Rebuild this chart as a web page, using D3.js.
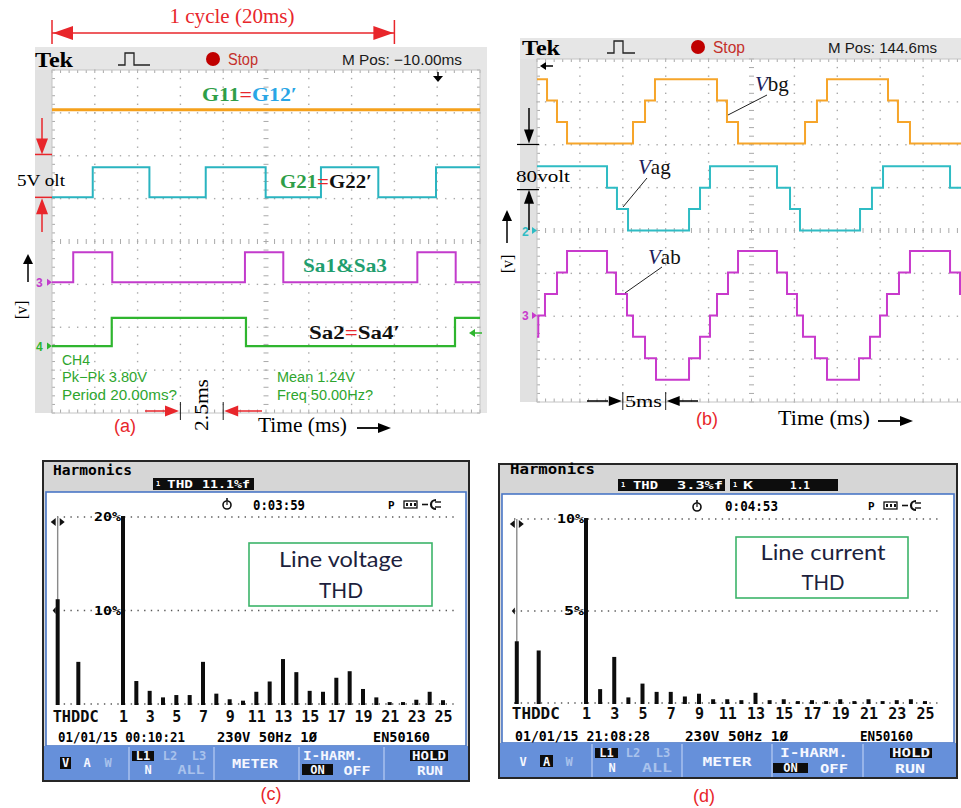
<!DOCTYPE html>
<html>
<head>
<meta charset="utf-8">
<script src="https://cdn.jsdelivr.net/npm/d3@7"></script>
<style>
  body { margin: 0; background: #fff; }
  svg { display: block; }
</style>
</head>
<body>
<svg id="fig" width="961" height="808"></svg>
<script>
// ---------------- data ----------------
// (a) gate pulses: switching instants in ms over the 25 ms record (2.5 ms/div)
const g11Edges = [];                                   // G11 = G12' held for the whole record
const g21Edges = [2.38, 5.69, 8.98, 12.48, 15.71, 19.06, 22.43];
const sa13Edges = [1.24, 3.52, 11.27, 13.51, 21.34, 23.58];
const sa24Edges = [3.49, 11.33, 23.54];
const gateAmplitudes = [0, 3.5, 3.5, 3.3];             // volts, same order as the four traces

// (b) stepped output voltages: [time ms, volts] at every level change (5 ms/div, 80 V/div)
const vbgSteps = [[0,120],[1.17,80],[2.33,40],[3.50,0],[11.19,40],[12.59,80],[13.75,120],
  [20.98,80],[22.14,40],[23.43,0],[31.24,40],[32.63,80],[33.80,120],[40.91,80],[42.07,40],[43.47,0]];
const vagSteps = [[0,120],[8.16,80],[9.32,40],[10.61,0],[17.72,40],[19.00,80],[20.16,120],
  [27.97,80],[29.49,40],[30.65,0],[37.65,40],[39.04,80],[40.33,120],[48.14,80]];
const vabSteps = [[0,-40],[0.15,0],[0.93,40],[2.33,80],[3.50,120],[8.16,80],[9.21,40],[10.49,0],
  [11.19,-40],[12.59,-80],[13.87,-120],[17.72,-80],[19.00,-40],[20.16,0],[20.98,40],[22.26,80],
  [23.43,120],[27.97,80],[29.14,40],[30.30,0],[31.00,-40],[32.40,-80],[33.80,-120],[37.53,-80],
  [38.81,-40],[39.98,0],[40.79,40],[42.19,80],[43.47,120],[48.14,80],[49.30,40]];

// (c), (d) harmonic spectra in % of fundamental
const harmonicOrders = [1,2,3,4,5,6,7,8,9,10,11,12,13,14,15,16,17,18,19,20,21,22,23,24,25];
const harmonicTickLabels = [1,3,5,7,9,11,13,15,17,19,21,23,25];
const voltageTHD = 11.1, voltageDC = 4.4;
const voltageHarmonics = [100, 2.35, 1.3, 0.6, 0.85, 0.85, 4.4, 1.0, 0.4, 0.25, 1.2, 2.3, 4.7,
  3.3, 1.3, 1.2, 2.7, 3.4, 1.5, 0.6, 0.1, 0.1, 0.35, 1.2, 0.3];
const currentTHD = 3.3, currentDC = 2.8;
const currentHarmonics = [100, 0.7, 2.45, 0.25, 1.0, 0.55, 0.55, 0.3, 0.45, 0.15, 0.15, 0.1, 0.5,
  0.1, 0.15, 0.05, 0.1, 0.05, 0.15, 0.05, 0.15, 0.05, 0.1, 0.15, 0.05];

// ---------------- helpers ----------------
const SERIF = "'Liberation Serif','DejaVu Serif',serif";
const SANS = "'Liberation Sans',Arial,sans-serif";
const MONO = "'DejaVu Sans Mono',monospace";
const LATO = "Lato,'Open Sans',sans-serif";
const RED = '#e8262b';

const svg = d3.select('#fig');
svg.append('rect').attr('width', 961).attr('height', 808).attr('fill', '#fff');
const defs = svg.append('defs');

function txt(g, x, y, s, o = {}) {
  const t = g.append('text').attr('x', x).attr('y', y).text(s)
    .attr('font-family', o.f || SANS).attr('font-size', o.s || 14).attr('fill', o.c || '#000');
  if (o.w) t.attr('font-weight', o.w);
  if (o.a) t.attr('text-anchor', o.a);
  if (o.st) t.attr('font-style', o.st);
  if (o.len) t.attr('textLength', o.len).attr('lengthAdjust', 'spacingAndGlyphs');
  if (o.rot !== undefined) t.attr('transform', `rotate(${o.rot},${x},${y})`);
  return t;
}
function ctext(g, x, y, parts, o = {}) {
  const t = txt(g, x, y, '', o);
  parts.forEach(p => {
    const ts = t.append('tspan').text(p[0]).attr('fill', p[1]);
    if (p[2]) ts.attr('font-style', p[2]);
  });
  return t;
}
function seg(g, x1, y1, x2, y2, c, w) {
  g.append('line').attr('x1', x1).attr('y1', y1).attr('x2', x2).attr('y2', y2)
    .attr('stroke', c).attr('stroke-width', w || 1);
}
function head(g, x, y, dir, len, half, c) {
  const p = {
    l: [[x, y], [x + len, y - half], [x + len, y + half]],
    r: [[x, y], [x - len, y - half], [x - len, y + half]],
    u: [[x, y], [x - half, y + len], [x + half, y + len]],
    d: [[x, y], [x - half, y - len], [x + half, y - len]]
  }[dir];
  g.append('path').attr('d', 'M' + p.join('L') + 'Z').attr('fill', c);
}

// oscilloscope graticule: 10 x 8 divisions, dotted, with ticked centre lines
function graticule(g, gx, gy, gw, gh) {
  const dw = gw / 10, dh = gh / 8;
  g.append('rect').attr('x', gx).attr('y', gy).attr('width', gw).attr('height', gh).attr('fill', '#fff');
  const dots = [];
  for (let i = 1; i < 10; i++) if (i !== 5) for (let k = 0; k <= 40; k++) dots.push([gx + i * dw, gy + k * dh / 5]);
  for (let j = 1; j < 8; j++) if (j !== 4) for (let k = 0; k <= 50; k++) dots.push([gx + k * dw / 5, gy + j * dh]);
  g.append('g').selectAll('rect').data(dots).join('rect')
    .attr('x', d => d[0] - 0.7).attr('y', d => d[1] - 0.7).attr('width', 1.4).attr('height', 1.4)
    .attr('fill', '#a9a9a9');
  const tk = [];
  for (let k = 0; k <= 50; k++) {
    const x = gx + k * dw / 5;
    tk.push([x, gy + 4 * dh - 2.5, x, gy + 4 * dh + 2.5], [x, gy, x, gy + 3], [x, gy + gh - 3.5, x, gy + gh]);
  }
  for (let k = 0; k <= 40; k++) {
    const y = gy + k * dh / 5;
    tk.push([gx + 5 * dw - 2.5, y, gx + 5 * dw + 2.5, y], [gx, y, gx + 3, y], [gx + gw - 3, y, gx + gw, y]);
  }
  g.append('g').selectAll('line').data(tk).join('line')
    .attr('x1', d => d[0]).attr('y1', d => d[1]).attr('x2', d => d[2]).attr('y2', d => d[3])
    .attr('stroke', '#a9a9a9').attr('stroke-width', 1);
  g.append('rect').attr('x', gx).attr('y', gy).attr('width', gw).attr('height', gh)
    .attr('fill', 'none').attr('stroke', '#c4c4c4').attr('stroke-width', 1);
}

function scopeHeader(g, c) {
  txt(g, c.tek, c.base + 2, 'Tek', { f: SERIF, s: 22, w: 'bold', len: 38 });
  g.append('path').attr('d', `M${c.icon},${c.base} h7 v-12 h9 v12 h${c.iconW - 16}`)
    .attr('fill', 'none').attr('stroke', '#222').attr('stroke-width', 1.3);
  g.append('circle').attr('cx', c.dot).attr('cy', c.base - 6).attr('r', 7).attr('fill', '#c00000');
  txt(g, c.dot + 15, c.base, 'Stop', { s: 16, c: '#c4302b', len: c.stopW });
  txt(g, c.mpos, c.base, c.mtext, { s: 15, c: '#1a1a1a', len: c.mposW });
}

function chMarker(g, x, y, label, color, gx) {
  txt(g, x, y + 5, label, { s: 12, c: color, w: 'bold' });
  head(g, gx, y, 'r', 5, 3.5, color);
}

// ================= (a) gate signals =================
const gA = svg.append('g');
const A = { gx: 52, gy: 70, gw: 428, gh: 343 };
gA.append('rect').attr('x', 35).attr('y', 47).attr('width', 452).attr('height', A.gy - 47).attr('fill', '#e6e6e6');
gA.append('rect').attr('x', 35).attr('y', A.gy).attr('width', A.gx - 35).attr('height', A.gh).attr('fill', '#e1e1e1');
gA.append('rect').attr('x', A.gx + A.gw).attr('y', A.gy).attr('width', 7).attr('height', A.gh).attr('fill', '#e6e6e6');
graticule(gA, A.gx, A.gy, A.gw, A.gh);
scopeHeader(gA, { tek: 35, base: 65, icon: 118, iconW: 32, dot: 213, stopW: 30, mpos: 342, mposW: 120, mtext: 'M Pos: \u221210.00ms' });

const tA = d3.scaleLinear().domain([0, 25]).range([A.gx, A.gx + A.gw]);
const dA = d3.scaleLinear().domain([-4, 4]).range([A.gy + A.gh, A.gy]);   // divisions
const voltsPerDivA = 5;
defs.append('clipPath').attr('id', 'clipA').append('rect')
  .attr('x', A.gx).attr('y', A.gy).attr('width', A.gw).attr('height', A.gh);

function pulsePoints(edges, amp, tEnd) {
  const pts = [[0, 0]];
  let lvl = 0;
  edges.forEach(t => { lvl = lvl ? 0 : amp; pts.push([t, lvl]); });
  pts.push([tEnd, lvl]);
  return pts;
}
const gateTraces = [
  { edges: g11Edges, amp: gateAmplitudes[0], off: 3.07, color: '#f5a11c', w: 3 },
  { edges: g21Edges, amp: gateAmplitudes[1], off: 1.03, color: '#2ab4c0', w: 2 },
  { edges: sa13Edges, amp: gateAmplitudes[2], off: -0.95, color: '#c23bcc', w: 2 },
  { edges: sa24Edges, amp: gateAmplitudes[3], off: -2.44, color: '#2fb52f', w: 2.2 }
];
const trA = gA.append('g').attr('clip-path', 'url(#clipA)');
gateTraces.forEach(tr => {
  const line = d3.line().curve(d3.curveStepAfter)
    .x(d => tA(d[0])).y(d => dA(tr.off + d[1] / voltsPerDivA));
  trA.append('path').attr('d', line(pulsePoints(tr.edges, tr.amp, 25)))
    .attr('fill', 'none').attr('stroke', tr.color).attr('stroke-width', tr.w);
});
chMarker(gA, 36, dA(-0.95), '3', '#c23bcc', A.gx);
chMarker(gA, 36, dA(-2.44), '4', '#2fb52f', A.gx);
// trigger markers
seg(gA, 438, 72, 438, 77, '#000', 1.5); head(gA, 438, 82, 'd', 6, 5, '#000');
seg(gA, 474, 333, 482, 333, '#2fb52f', 1.5); head(gA, 469, 333, 'l', 6, 4, '#2fb52f');

// trace labels
ctext(gA, 202, 101, [['G11', '#2e9e48'], ['=', RED], ['G12\u2032', '#2aa6e6']], { f: SERIF, s: 19, w: 'bold', len: 95 });
ctext(gA, 280, 188, [['G21', '#2e9e48'], ['=', RED], ['G22\u2032', '#111']], { f: SERIF, s: 19, w: 'bold', len: 92 });
txt(gA, 303, 272, 'Sa1&Sa3', { f: SERIF, s: 19, w: 'bold', c: '#1f9e6e', len: 84 });
ctext(gA, 309, 339, [['Sa2', '#111'], ['=', RED], ['Sa4\u2032', '#111']], { f: SERIF, s: 19, w: 'bold', len: 91 });

// measurement readouts
const GR = '#2ea52e';
txt(gA, 62, 365, 'CH4', { s: 14, c: GR });
txt(gA, 62, 382, 'Pk\u2212Pk 3.80V', { s: 14, c: GR, len: 85 });
txt(gA, 62, 400, 'Period 20.00ms?', { s: 14, c: GR, len: 115 });
txt(gA, 277, 382, 'Mean 1.24V', { s: 14, c: GR, len: 78 });
txt(gA, 277, 400, 'Freq 50.00Hz?', { s: 14, c: GR, len: 96 });

// cycle annotation
txt(gA, 232, 23, '1 cycle (20ms)', { f: SERIF, s: 20, c: RED, a: 'middle', len: 125 });
seg(gA, tA(0), 33, tA(20), 33, RED, 1.5);
head(gA, tA(0) + 1, 33, 'l', 20, 7, RED);
head(gA, tA(20) - 1, 33, 'r', 20, 7, RED);
seg(gA, tA(0), 20, tA(0), 44, RED, 1.5);
seg(gA, tA(20), 20, tA(20), 44, RED, 1.5);

// 5 V/div annotation
const yTop5 = dA(1.03 + 1), yBot5 = dA(1.03);
seg(gA, 42, 118, 42, yTop5 - 14, RED, 1.5); head(gA, 42, yTop5, 'd', 16, 6, RED);
seg(gA, 35, yTop5, 52, yTop5, RED, 1.5);
seg(gA, 35, yBot5, 52, yBot5, RED, 1.5);
head(gA, 42, yBot5 + 1, 'u', 16, 6, RED); seg(gA, 42, yBot5 + 14, 42, 232, RED, 1.5);
txt(gA, 17, 186, '5V olt', { f: SERIF, s: 17, len: 48 });

// axis hints
seg(gA, 28, 262, 28, 282, '#000', 1.5); head(gA, 28, 254, 'u', 10, 5, '#000');
txt(gA, 27, 310, '[v]', { f: SERIF, s: 16, a: 'middle', rot: -90 });
txt(gA, 125, 432, '(a)', { f: SANS, s: 18, c: RED, a: 'middle' });
txt(gA, 258, 432, 'Time (ms)', { f: SERIF, s: 20, len: 89 });
seg(gA, 357, 428, 378, 428, '#000', 1.8); head(gA, 391, 428, 'r', 13, 5, '#000');

// 2.5 ms marker
seg(gA, 145, 411, 166, 411, RED, 1.5); head(gA, 179, 411, 'r', 14, 5.5, RED);
seg(gA, tA(7.5), 402, tA(7.5), 420, '#222', 1);
seg(gA, tA(10), 402, tA(10), 420, '#222', 1);
head(gA, tA(10) + 1, 411, 'l', 14, 5.5, RED); seg(gA, tA(10) + 14, 411, 262, 411, RED, 1.5);
txt(gA, 208, 405, '2.5ms', { f: SERIF, s: 18, a: 'middle', rot: -90, len: 52 });

// ================= (b) output voltages =================
const gB = svg.append('g');
const B = { gx: 537, gy: 59, gw: 429, gh: 343 };
gB.append('rect').attr('x', 520).attr('y', 38).attr('width', 441).attr('height', B.gy - 38).attr('fill', '#e6e6e6');
gB.append('rect').attr('x', 520).attr('y', B.gy).attr('width', B.gx - 520).attr('height', B.gh).attr('fill', '#e1e1e1');
graticule(gB, B.gx, B.gy, B.gw, B.gh);
scopeHeader(gB, { tek: 522, base: 53, icon: 607, iconW: 28, dot: 698, stopW: 32, mpos: 828, mposW: 109, mtext: 'M Pos: 144.6ms' });

const tB = d3.scaleLinear().domain([0, 50]).range([B.gx, B.gx + B.gw]);
const dB = d3.scaleLinear().domain([-4, 4]).range([B.gy + B.gh, B.gy]);
const voltsPerDivB = 80;
defs.append('clipPath').attr('id', 'clipB').append('rect')
  .attr('x', B.gx).attr('y', B.gy).attr('width', B.gw).attr('height', B.gh);
const phaseTraces = [
  { steps: vbgSteps, off: 2.03, color: '#f6a52a' },
  { steps: vagSteps, off: 0, color: '#2fbcc4' },
  { steps: vabSteps, off: -1.98, color: '#c83acc' }
];
const trB = gB.append('g').attr('clip-path', 'url(#clipB)');
phaseTraces.forEach(tr => {
  const pts = tr.steps.concat([[50, tr.steps[tr.steps.length - 1][1]]]);
  const line = d3.line().curve(d3.curveStepAfter)
    .x(d => tB(d[0])).y(d => dB(tr.off + d[1] / voltsPerDivB));
  trB.append('path').attr('d', line(pts)).attr('fill', 'none')
    .attr('stroke', tr.color).attr('stroke-width', 2);
});
chMarker(gB, 522, dB(0), '2', '#2fbcc4', B.gx);
chMarker(gB, 522, dB(-1.98), '3', '#c83acc', B.gx);
seg(gB, 545, 66, 553, 66, '#000', 1.5); head(gB, 540, 66, 'l', 6, 4, '#000');

// 80 V/div annotation
const yG = dB(2.03), yV = dB(1);
seg(gB, 529, 108, 529, yG - 12, '#000', 1.5); head(gB, 529, yG, 'd', 14, 5, '#000');
seg(gB, 517, yG + 1, 539, yG + 1, '#000', 1.2);
seg(gB, 517, yV + 2, 539, yV + 2, '#000', 1.2);
head(gB, 529, yV + 2, 'u', 14, 5, '#000'); seg(gB, 529, yV + 14, 529, 230, '#000', 1.5);
txt(gB, 516, 182, '80volt', { f: SERIF, s: 17, len: 54 });

// trace labels with leaders
ctext(gB, 755, 91, [['V', '#1c1c5c', 'italic'], ['bg', '#111']], { f: SERIF, s: 21 });
seg(gB, 767, 95, 728, 115, '#222', 1);
ctext(gB, 638, 174, [['V', '#1c1c5c', 'italic'], ['ag', '#111']], { f: SERIF, s: 21 });
seg(gB, 647, 178, 623, 207, '#222', 1);
ctext(gB, 648, 264, [['V', '#1c1c5c', 'italic'], ['ab', '#111']], { f: SERIF, s: 21 });
seg(gB, 662, 267, 625, 293, '#222', 1);

// axis hints
seg(gB, 507, 220, 507, 243, '#000', 1.5); head(gB, 507, 210, 'u', 11, 5, '#000');
txt(gB, 513, 264, '[v]', { f: SERIF, s: 16, a: 'middle', rot: -90 });

// 5 ms marker
seg(gB, 587, 401, 608, 401, '#000', 1.5); head(gB, tB(10) - 1, 401, 'r', 13, 5, '#000');
seg(gB, tB(10), 392, tB(10), 410, '#222', 1);
seg(gB, tB(15), 392, tB(15), 410, '#222', 1);
head(gB, tB(15) + 1, 401, 'l', 13, 5, '#000'); seg(gB, tB(15) + 13, 401, 698, 401, '#000', 1.5);
txt(gB, 625, 407, '5ms', { f: SERIF, s: 17, len: 37 });
txt(gB, 707, 425, '(b)', { f: SANS, s: 18, c: RED, a: 'middle' });
txt(gB, 778, 425, 'Time (ms)', { f: SERIF, s: 20, len: 92 });
seg(gB, 878, 421, 900, 421, '#000', 1.8); head(gB, 913, 421, 'r', 13, 5, '#000');

// ================= (c), (d) harmonic analyser screens =================
function flukeScreen(g, c) {
  const W = c.x1 - c.x0;
  g.append('rect').attr('x', c.x0).attr('y', c.y0).attr('width', W).attr('height', c.yBar1 - c.y0)
    .attr('fill', '#d6d6d6').attr('stroke', '#262626').attr('stroke-width', 2);
  g.append('rect').attr('x', c.x0 + 3).attr('y', c.yHead).attr('width', W - 6).attr('height', c.yBar0 - c.yHead)
    .attr('fill', '#fff').attr('stroke', '#4a77c6').attr('stroke-width', 1.6);
  g.append('rect').attr('x', c.x0 + 1).attr('y', c.yBar0).attr('width', W - 2).attr('height', c.yBar1 - c.yBar0 - 1)
    .attr('fill', '#6690da');
  c.dividers.forEach(x => seg(g, x, c.yBar0 + 1, x, c.yBar1 - 1, '#a9c1ee', 1.5));

  const F = { f: MONO, w: 'bold' };
  txt(g, c.title[0], c.title[1], 'Harmonics', { ...F, s: 14, len: c.title[2] });
  c.boxes.forEach(b => {
    g.append('rect').attr('x', b.x).attr('y', b.y).attr('width', b.w).attr('height', b.h).attr('fill', '#0d0d0d');
    txt(g, b.x + 3, b.y + 8, '1', { ...F, s: 7, c: '#fff' });
    b.items.forEach(it => txt(g, it[0], b.y + b.h - 2, it[1], { ...F, s: 11, c: '#fff', len: it[2] }));
  });
  // status line: timer, probe, battery, mains plug
  const [sx, sy] = c.watch;
  g.append('circle').attr('cx', sx).attr('cy', sy).attr('r', 4).attr('fill', 'none').attr('stroke', '#111').attr('stroke-width', 1.6);
  seg(g, sx, sy - 7, sx, sy - 4, '#111', 1.6); seg(g, sx, sy, sx, sy - 3, '#111', 1.2);
  txt(g, c.timer[0], c.timer[1], c.timer[2], { ...F, s: 14, len: c.timer[3] });
  const [px, py] = c.icons;
  txt(g, px, py, 'P', { ...F, s: 11 });
  g.append('rect').attr('x', px + 16).attr('y', py - 8).attr('width', 13).attr('height', 7)
    .attr('fill', 'none').attr('stroke', '#111').attr('stroke-width', 1.3);
  [0, 4, 8].forEach(d => g.append('rect').attr('x', px + 18 + d).attr('y', py - 6).attr('width', 2).attr('height', 3).attr('fill', '#111'));
  seg(g, px + 34, py - 4.5, px + 40, py - 4.5, '#111', 1.6);
  g.append('path').attr('d', `M${px + 48},${py - 9} A5,4.5 0 0 0 ${px + 48},${py}`)
    .attr('fill', 'none').attr('stroke', '#111').attr('stroke-width', 2.2);
  seg(g, px + 47, py - 7, px + 53, py - 7, '#111', 1.4); seg(g, px + 47, py - 2, px + 53, py - 2, '#111', 1.4);

  // spectrum
  const x = d3.scaleLinear().domain([1, 25]).range(c.xRange);
  const y = d3.scaleLinear().domain([0, c.maxPct]).range(c.yRange);
  const slot = { THD: -3.9, DC: -2.35 };
  const dotted = (yy) => g.append('line').attr('x1', c.gridX[0]).attr('x2', c.gridX[1]).attr('y1', yy).attr('y2', yy)
    .attr('stroke', '#5a5a5a').attr('stroke-width', 1.4).attr('stroke-dasharray', '1.4,5.3');
  c.gridVals.forEach(v => {
    dotted(y(v));
    txt(g, x(1) - 2, y(v) + 4, v + '%', { ...F, s: 11.5, a: 'end', len: c.pctW[v] });
  });
  dotted(y(0));
  const bars = [{ k: 'THD', v: c.thd, x: x(slot.THD) }, { k: 'DC', v: c.dc, x: x(slot.DC) }]
    .concat(harmonicOrders.map((n, i) => ({ k: n, v: c.harm[i], x: x(n) })));
  // cursor at the THD column
  const xc = x(slot.THD);
  seg(g, xc, y(0), xc, y(c.maxPct), '#8a8a8a', 1.4);
  head(g, xc - 7, y(c.maxPct) + 5, 'l', 5, 4, '#111'); head(g, xc + 7, y(c.maxPct) + 5, 'r', 5, 4, '#111');
  g.append('path').attr('d', `M${xc - 5},${y(c.maxPct / 2)} l3,-3.5 l0,7 Z`).attr('fill', '#111');
  g.append('g').selectAll('rect').data(bars).join('rect')
    .attr('x', d => d.x - 2).attr('width', 4)
    .attr('y', d => y(Math.min(d.v, c.maxPct)) - 1)
    .attr('height', d => y(0) - y(Math.min(d.v, c.maxPct)) + 2)
    .attr('fill', '#0d0d0d');
  // order labels
  const ax = g.append('g').attr('transform', `translate(0,${c.labelBase - 0.71 * 15})`)
    .call(d3.axisBottom(x).tickValues(harmonicTickLabels).tickSize(0).tickPadding(0).tickFormat(d3.format('d')));
  ax.select('.domain').remove();
  ax.selectAll('text').attr('font-family', MONO).attr('font-weight', 'bold').attr('font-size', 15).attr('fill', '#0d0d0d');
  // the THD and DC column names run together on the analyser screen
  ctext(g, x(slot.THD) - 5, c.labelBase, [[bars[0].k, '#0d0d0d'], [bars[1].k, '#0d0d0d']], { ...F, s: 15, len: c.thdW + c.dcW });

  // footer
  c.footer.forEach(f => txt(g, f[0], c.footBase, f[1], { ...F, s: 14, len: f[2] }));
  // annotation box
  g.append('rect').attr('x', c.note[0]).attr('y', c.note[1]).attr('width', c.note[2]).attr('height', c.note[3])
    .attr('fill', '#fff').attr('stroke', '#3cb46a').attr('stroke-width', 1.6);
  c.noteText.forEach(t => txt(g, t[0], t[1], t[2], { f: LATO, s: 21, c: '#1d1f3d', a: 'middle', len: t[3] }));

  // soft keys
  c.keys.forEach(k => {
    if (k.box) g.append('rect').attr('x', k.box[0]).attr('y', k.box[1]).attr('width', k.box[2]).attr('height', k.box[3]).attr('fill', '#0d0d0d');
    txt(g, k.x, k.y, k.t, { ...F, s: 12, a: 'middle', c: k.faded ? '#a9c2ec' : '#f5f7ff', len: k.len });
  });
  txt(g, c.tag[0], c.tag[1], c.tag[2], { f: SANS, s: 18, c: RED, a: 'middle' });
}

flukeScreen(svg.append('g'), {
  x0: 43, x1: 469, y0: 461, yHead: 492, yBar0: 746, yBar1: 781,
  dividers: [129, 214, 299, 384],
  title: [53, 475, 79],
  boxes: [{ x: 153, y: 478, w: 101, h: 12, items: [[167, 'THD', 26], [202, '11.1%f', 48]] }],
  watch: [227, 505], timer: [253, 510, '0:03:59', 52], icons: [388, 509],
  xRange: [123, 443], yRange: [704, 517], maxPct: 20, gridVals: [10, 20], pctW: { 10: 27, 20: 27 },
  gridX: [57, 457],
  thd: voltageTHD, dc: voltageDC, harm: voltageHarmonics,
  labelBase: 722, thdW: 24, dcW: 22,
  footBase: 742,
  footer: [[58, '01/01/15 00:10:21', 127], [217, '230V 50Hz 1\u00d8', 100], [373, 'EN50160', 57]],
  note: [249, 543, 183, 63],
  noteText: [[341, 567, 'Line voltage', 124], [341, 598, 'THD', 44]],
  keys: [
    { t: 'V', x: 65.5, y: 767, box: [60, 757, 11, 12] },
    { t: 'A', x: 87, y: 767 }, { t: 'W', x: 108, y: 767, faded: true },
    { t: 'L1', x: 143, y: 759.5, box: [132, 751, 22, 10] },
    { t: 'L2', x: 170, y: 760, faded: true }, { t: 'L3', x: 199, y: 760, faded: true },
    { t: 'N', x: 148, y: 774 }, { t: 'ALL', x: 191, y: 774, faded: true, len: 27 },
    { t: 'METER', x: 255, y: 768, len: 46 },
    { t: 'I-HARM.', x: 333, y: 760, len: 60 },
    { t: 'ON', x: 317.5, y: 774, box: [302, 764, 31, 11] }, { t: 'OFF', x: 357, y: 775, len: 27 },
    { t: 'HOLD', x: 429, y: 760, box: [410, 750, 38, 11], len: 34 }, { t: 'RUN', x: 430, y: 775, len: 26 }
  ],
  tag: [271, 800, '(c)']
});

flukeScreen(svg.append('g'), {
  x0: 499, x1: 957, y0: 464, yHead: 494, yBar0: 743, yBar1: 778,
  dividers: [592, 682, 772, 863],
  title: [510, 474, 85],
  boxes: [
    { x: 618, y: 479, w: 107, h: 12, items: [[633, 'THD', 25], [677, '3.3%f', 46]] },
    { x: 730, y: 479, w: 108, h: 12, items: [[743, 'K', 10], [790, '1.1', 20]] }
  ],
  watch: [697, 507], timer: [725, 511, '0:04:53', 53], icons: [868, 510],
  xRange: [586, 925], yRange: [703, 519], maxPct: 10, gridVals: [5, 10], pctW: { 5: 20, 10: 27 },
  gridX: [514, 940],
  thd: currentTHD, dc: currentDC, harm: currentHarmonics,
  labelBase: 719, thdW: 25, dcW: 23,
  footBase: 741,
  footer: [[515, '01/01/15 21:08:28', 135], [685, '230V 50Hz 1\u00d8', 103], [860, 'EN50160', 53]],
  note: [736, 537, 172, 61],
  noteText: [[823, 560, 'Line current', 125], [823, 590, 'THD', 43]],
  keys: [
    { t: 'V', x: 523, y: 766 },
    { t: 'A', x: 546.5, y: 766, box: [540, 755, 13, 12] }, { t: 'W', x: 569, y: 766, faded: true },
    { t: 'L1', x: 606.5, y: 757, box: [595, 748, 23, 10] },
    { t: 'L2', x: 633, y: 757, faded: true }, { t: 'L3', x: 663, y: 757, faded: true },
    { t: 'N', x: 612, y: 772 }, { t: 'ALL', x: 657, y: 772, faded: true, len: 30 },
    { t: 'METER', x: 727, y: 766, len: 49 },
    { t: 'I-HARM.', x: 814, y: 757, len: 68 },
    { t: 'ON', x: 790.5, y: 772, box: [773, 763, 35, 10] }, { t: 'OFF', x: 834, y: 773, len: 28 },
    { t: 'HOLD', x: 911, y: 757, box: [890, 748, 42, 10], len: 38 }, { t: 'RUN', x: 910, y: 773, len: 30 }
  ],
  tag: [704, 802, '(d)']
});
</script>
</body>
</html>
